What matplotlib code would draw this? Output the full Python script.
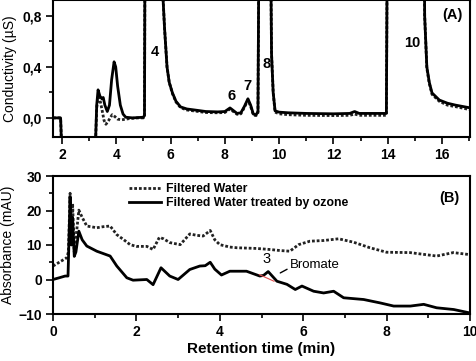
import matplotlib
matplotlib.use("Agg")
import matplotlib.pyplot as plt
from matplotlib.ticker import MultipleLocator, FuncFormatter

plt.rcParams['font.family'] = ['Liberation Sans', 'DejaVu Sans']
plt.rcParams['font.weight'] = 'bold'

# ---------------- Panel A data (conductivity, uS) ----------------
a_solid_x = [1.67, 1.95, 2.0, 3.22, 3.28, 3.33, 3.40, 3.47, 3.52, 3.58, 3.67, 3.75, 3.83, 3.92,
             3.98, 4.05, 4.15, 4.25, 4.35, 4.6, 5.0, 5.04, 5.08, 5.65, 5.72, 5.78, 5.87, 5.95,
             6.07, 6.2, 6.37, 6.6, 6.85, 7.3, 7.74, 8.0, 8.19, 8.3, 8.45, 8.59, 8.72, 8.85,
             8.95, 9.05, 9.15, 9.22, 9.3, 9.62, 9.72, 9.78, 9.85, 10.0, 10.33, 11.0, 12.0,
             12.6, 12.78, 12.95, 13.5, 13.95, 14.02, 15.3, 15.36, 15.44, 15.53, 15.63, 15.9,
             16.2, 16.5, 17.0]
a_solid_y = [0.0, 0.0, -0.3, -0.3, 0.10, 0.22, 0.17, 0.15, 0.16, 0.10, 0.05, 0.10, 0.30, 0.44,
             0.40, 0.25, 0.10, 0.03, 0.005, 0.0, 0.005, 0.02, 3.0, 3.0, 0.95, 0.70, 0.40, 0.28,
             0.196, 0.13, 0.086, 0.07, 0.063, 0.05, 0.047, 0.05, 0.078, 0.06, 0.035, 0.04, 0.09, 0.15,
             0.10, 0.03, 0.024, 0.05, 3.0, 3.0, 0.5, 0.2, 0.055, 0.045, 0.04, 0.035, 0.032,
             0.035, 0.05, 0.035, 0.035, 0.035, 3.0, 3.0, 0.8, 0.4, 0.28, 0.196, 0.14,
             0.115, 0.10, 0.08]

a_dot_x = [1.67, 1.95, 2.0, 3.22, 3.28, 3.33, 3.40, 3.47, 3.55, 3.62, 3.72, 3.85, 3.95, 4.05,
           4.2, 4.5, 4.8, 5.0, 5.04, 5.08, 5.65, 5.72, 5.78, 5.87, 5.95, 6.07, 6.2, 6.37, 6.6,
           6.85, 7.3, 7.74, 8.0, 8.19, 8.3, 8.45, 8.59, 8.72, 8.85, 8.95, 9.05, 9.15, 9.22,
           9.3, 9.62, 9.72, 9.78, 9.85, 10.0, 10.33, 11.0, 12.0, 12.6, 12.78, 12.95, 13.5,
           13.95, 14.02, 15.3, 15.36, 15.44, 15.53, 15.63, 15.9, 16.2, 16.5, 17.0]
a_dot_y = [0.0, 0.0, -0.3, -0.3, 0.08, 0.16, 0.14, 0.07, -0.02, -0.05, -0.02, 0.025, 0.01, -0.01,
           -0.015, -0.005, 0.0, 0.0, 0.02, 3.0, 3.0, 0.95, 0.70, 0.40, 0.28, 0.19, 0.125, 0.08, 0.062,
           0.055, 0.042, 0.04, 0.042, 0.07, 0.052, 0.028, 0.032, 0.082, 0.14, 0.09, 0.022, 0.018, 0.04,
           3.0, 3.0, 0.5, 0.2, 0.045, 0.032, 0.025, 0.02, 0.018, 0.02, 0.03, 0.02, 0.02,
           0.02, 3.0, 3.0, 0.8, 0.39, 0.27, 0.185, 0.13, 0.10, 0.088, 0.066]

# ---------------- Panel B data (absorbance, mAU) ----------------
b_water_x = [0.0, 0.15, 0.33, 0.37, 0.41, 0.44, 0.47, 0.51, 0.55, 0.62, 0.70, 0.81, 1.05, 1.2,
             1.37, 1.53, 1.7, 1.85, 2.0, 2.25, 2.4, 2.55, 2.65, 2.8, 3.05, 3.28, 3.45, 3.6,
             3.77, 3.88, 4.0, 4.24, 4.41, 4.88, 5.2, 5.44, 5.68, 5.89, 6.16, 6.49, 6.85, 7.21,
             7.6, 8.0, 8.56, 9.2, 9.6, 10.0]
b_water_y = [3.9, 5.0, 6.3, 8.0, 25.0, 12.0, 22.0, 8.0, 12.0, 20.1, 18.0, 15.5, 15.0, 15.3,
             15.5, 13.0, 11.5, 10.1, 9.6, 9.6, 8.7, 12.2, 11.8, 10.7, 10.1, 13.2, 12.8, 12.6,
             14.2, 11.5, 10.1, 9.4, 9.2, 9.0, 8.7, 8.4, 8.2, 10.1, 11.1, 11.3, 11.8, 10.8,
             9.2, 7.9, 7.8, 6.8, 7.8, 7.2]

b_ozone_x = [0.0, 0.15, 0.29, 0.36, 0.38, 0.41, 0.44, 0.47, 0.51, 0.55, 0.62, 0.70, 0.81, 1.05,
             1.37, 1.53, 1.77, 1.92, 2.25, 2.4, 2.59, 2.8, 3.0, 3.28, 3.52, 3.65, 3.77, 3.88,
             4.04, 4.24, 4.41, 4.64, 4.96, 5.05, 5.16, 5.37, 5.61, 5.81, 5.97, 6.25, 6.49, 6.73,
             6.97, 7.45, 7.85, 8.17, 8.57, 8.89, 9.2, 9.61, 10.0]
b_ozone_y = [0.0, 0.5, 1.0, 1.0, 10.0, 24.0, 10.0, 18.0, 6.7, 8.0, 14.0, 11.5, 9.7, 8.2,
             6.8, 3.9, 0.5, -0.2, 0.0, -1.5, 3.4, 1.0, 0.0, 2.9, 3.9, 4.0, 5.0, 3.0,
             1.3, 2.4, 2.4, 2.4, 1.0, 1.2, 2.3, -0.5, -1.4, -2.9, -1.9, -3.4, -3.9, -3.4,
             -5.3, -5.8, -6.8, -7.7, -7.7, -7.2, -8.2, -8.7, -9.7]

bromate_base_x = [4.95, 5.3]
bromate_base_y = [1.4, -0.5]

peak_labels_a = ["4", "6", "7", "8", "10"]
peak_label_x = [5.44, 8.26, 8.85, 9.55, 14.9]
peak_label_y = [0.52, 0.17, 0.25, 0.42, 0.59]

legend_labels = ["Filtered Water", "Filtered Water treated by ozone"]

W, H = 477, 361
fig = plt.figure(figsize=(W / 100, H / 100), dpi=100)

axA = fig.add_axes([53 / W, 1 - 137 / H, (470 - 53) / W, 137 / H])
axB = fig.add_axes([53 / W, 1 - 314 / H, (470 - 53) / W, (314 - 176) / H])

dotstyle = (0, (1.0, 0.7))
lw = 2.0

axA.plot(a_dot_x, a_dot_y, color='#222222', lw=lw, ls=dotstyle)
axA.plot(a_solid_x, a_solid_y, color='black', lw=lw)
axA.set_xlim(1.67, 17.03)
axA.set_ylim(-0.15, 0.925)
axA.xaxis.set_major_locator(MultipleLocator(2))
axA.xaxis.set_minor_locator(MultipleLocator(1))
axA.yaxis.set_major_locator(MultipleLocator(0.4))
axA.yaxis.set_minor_locator(MultipleLocator(0.2))
axA.yaxis.set_major_formatter(FuncFormatter(lambda v, p: f"{v:.1f}".replace('.', ',').replace('-0,0', '0,0')))
axA.set_ylabel("Conductivity (\u00b5S)", fontsize=10, fontweight='normal', labelpad=4)
for t, x, y in zip(peak_labels_a, peak_label_x, peak_label_y):
    axA.text(x, y, t, fontsize=10.5, ha='center', va='center', fontweight='bold')
axA.text(16.4, 0.81, "(A)", fontsize=10.5, ha='center', va='center', fontweight='bold')

axB.plot(b_water_x, b_water_y, color='#222222', lw=lw, ls=dotstyle, label=legend_labels[0])
axB.plot(b_ozone_x, b_ozone_y, color='black', lw=lw, label=legend_labels[1])
axB.plot(bromate_base_x, bromate_base_y, color='#e05050', lw=0.8)
axB.set_xlim(0, 10)
axB.set_ylim(-10, 30)
axB.xaxis.set_major_locator(MultipleLocator(2))
axB.xaxis.set_minor_locator(MultipleLocator(1))
axB.yaxis.set_major_locator(MultipleLocator(10))
axB.yaxis.set_minor_locator(MultipleLocator(5))
axB.set_ylabel("Absorbance (mAU)", fontsize=10, fontweight='normal', labelpad=2)
axB.set_xlabel("Retention time (min)", fontsize=11, fontweight='bold', labelpad=2)
axB.text(5.13, 5.8, "3", fontsize=10.5, ha='center', va='center', fontweight='normal')
axB.annotate("Bromate", xy=(5.45, 1.9), xytext=(5.68, 4.1), fontsize=9.5, fontweight='normal',
             ha='left', va='center',
             arrowprops=dict(arrowstyle='-', color='black', lw=1.0, shrinkA=0, shrinkB=0,
                             relpos=(0, 0.3)))
axB.text(9.5, 23.6, "(B)", fontsize=10.5, ha='center', va='center', fontweight='bold')
axB.legend(loc='upper left', bbox_to_anchor=(0.16, 1.02), frameon=False,
           handlelength=2.6, handletextpad=0.4, labelspacing=0.2, borderpad=0.3,
           prop={'weight': 'bold', 'size': 8.8})

for ax in (axA, axB):
    for s in ax.spines.values():
        s.set_linewidth(1.5)
    ax.tick_params(which='major', direction='out', length=5, width=1.2, labelsize=10, pad=3)
    ax.tick_params(which='minor', direction='out', length=3, width=1.2)

fig.savefig("out.png", dpi=100)
